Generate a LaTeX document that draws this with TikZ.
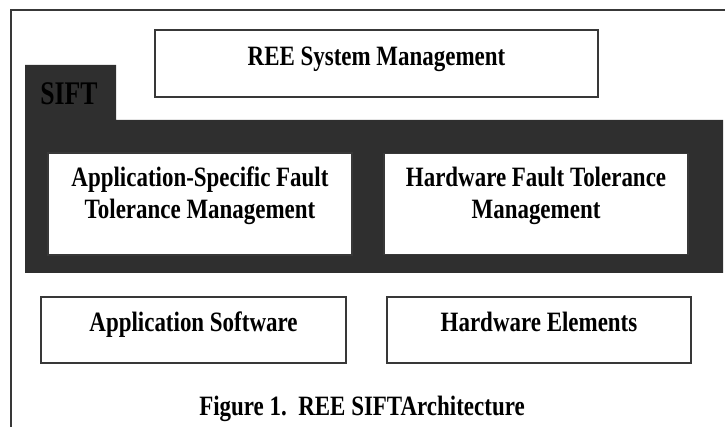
\documentclass[tikz,border=0pt]{standalone}
\usepackage{fontspec}
\setmainfont{Liberation Serif}
\newfontfamily\narrowfont[FakeStretch=0.82]{Liberation Serif}
\newfontfamily\tabfont[FakeStretch=0.78]{Liberation Serif}
\usepackage{tikz}
\usetikzlibrary{positioning}
\definecolor{siftdark}{HTML}{2F2F2F}
\definecolor{edgegray}{HTML}{383838}

\begin{document}
\begin{tikzpicture}[
  x=1pt,y=-1pt,
  every node/.style={font=\narrowfont\bfseries\fontsize{28}{32}\selectfont},
  layer/.style={rectangle,draw=edgegray,line width=1.3pt,fill=white,align=center,inner sep=0pt},
  oneline/.style={layer,text height=20pt,text depth=16pt},
  twoline/.style={layer,text height=40pt,text depth=10pt}
]
\useasboundingbox (0,0) rectangle (725,427);
% outer frame
\draw[edgegray,line width=1.3pt] (725,10) -- (11,10) -- (11,427);

% SIFT band
\fill[siftdark] (25,65) -- (116,65) -- (116,120) -- (723,120) -- (723,273) -- (25,273) -- cycle;
\node[anchor=base,text=black,font=\tabfont\bfseries\fontsize{33}{36}\selectfont] (sift) at (69,105) {SIFT};

\node[oneline,minimum width=443pt,minimum height=67pt] (ree) at (376.5,63.5) {REE System Management};
\node[twoline,minimum width=304pt,minimum height=102pt] (asftm) at (200,204) {Application-Specific Fault\\Tolerance Management};
\node[twoline,minimum width=304pt,minimum height=101pt] (hwftm) at (536,204) {Hardware Fault Tolerance\\Management};
\node[oneline,minimum width=305pt,minimum height=66pt] (appsw) at (193.5,330) {Application Software};
\node[oneline,minimum width=304pt,minimum height=66pt] (hwel) at (539,330) {Hardware Elements};

\node[anchor=base] (caption) at (362,415) {Figure 1.\ \ REE SIFTArchitecture};
\end{tikzpicture}
\end{document}
